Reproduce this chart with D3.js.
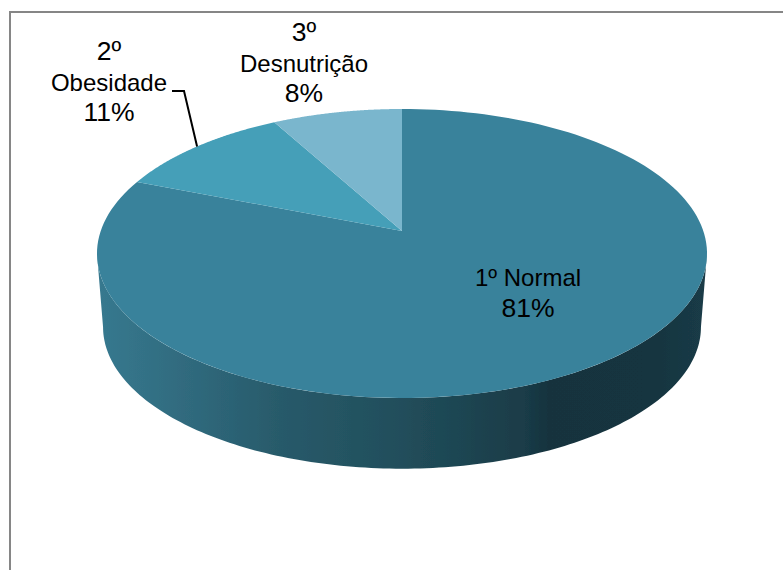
<!DOCTYPE html>
<html>
<head>
<meta charset="utf-8">
<script src="https://cdn.jsdelivr.net/npm/d3@7/dist/d3.min.js"></script>
<style>
html,body{margin:0;padding:0;background:#fff;overflow:hidden}
svg{display:block}
text{font-family:"Liberation Sans",Arial,sans-serif;font-size:24px;fill:#000;text-anchor:middle}
</style>
</head>
<body>
<svg id="c" width="783" height="570"></svg>
<script>
const categories = ["Normal", "Obesidade", "Desnutrição"];
const ranks = ["1º", "2º", "3º"];
const values = [81, 11, 8];
const sliceColors = ["#39829b", "#459fb8", "#7ab6cd"];

const svg = d3.select("#c");
const W = 783, H = 570;

// frame (runs off the right and bottom of the picture)
svg.append("rect").attr("x", 10).attr("y", 12).attr("width", W + 20).attr("height", H + 20)
  .attr("fill", "#fff").attr("stroke", "#868686").attr("stroke-width", 2);

// perspective projection of the pie plane
const k = 0.1557;
function projector(cx, cy, A, B) {
  return t => {
    const u = Math.sin(t), v = Math.cos(t), w = 1 + k * v;
    return [cx + A * u / w, cy - B * v / w];
  };
}
const top3d = projector(402, 231, 301.3, 141);
const bot3d = projector(402, 305, 295.3, 138.2);

const pie = d3.pie().sort(null).value(d => d);
const arcs = pie(values);
const line = d3.line();
const sample = (a, b, n = 160) => d3.range(n + 1).map(i => a + (b - a) * i / n);

// side wall
const defs = svg.append("defs");
const grad = defs.append("linearGradient").attr("id", "wall")
  .attr("gradientUnits", "userSpaceOnUse").attr("x1", 97).attr("x2", 707).attr("y1", 0).attr("y2", 0);
[[0, "#37798f"], [0.12, "#316d81"], [0.3, "#285a6a"], [0.5, "#214e5b"], [0.7, "#1a3c48"],
 [0.74, "#16333e"], [0.9, "#17343f"], [1, "#1a3b47"]]
  .forEach(s => grad.append("stop").attr("offset", s[0]).attr("stop-color", s[1]));
defs.append("filter").attr("id", "soft").append("feGaussianBlur").attr("stdDeviation", 0.5);

const ts = Math.acos(-k);
const wallPts = sample(ts, 2 * Math.PI - ts).map(top3d)
  .concat(sample(2 * Math.PI - ts, ts).map(bot3d));
svg.append("path").attr("d", line(wallPts) + "Z").attr("fill", "url(#wall)").attr("filter", "url(#soft)");

// top face
const apex = [402, 231];
svg.selectAll("path.slice").data(arcs).join("path").attr("class", "slice")
  .attr("d", d => line([apex].concat(sample(d.startAngle, d.endAngle).map(top3d))) + "Z")
  .attr("fill", (d, i) => sliceColors[i]);

// leader line for Obesidade, ending at the middle of its rim
const mid = (arcs[1].startAngle + arcs[1].endAngle) / 2;
const end = top3d(mid);
svg.append("path").attr("d", line([[172, 91], [184, 91], end]))
  .attr("fill", "none").attr("stroke", "#000").attr("stroke-width", 2);

// labels
const total = d3.sum(values);
const pct = v => Math.round(v / total * 100) + "%";
const labelLines = [
  [ranks[0] + " " + categories[0], pct(values[0])],
  [ranks[1], categories[1], pct(values[1])],
  [ranks[2], categories[2], pct(values[2])]
];
const anchors = [[528, 286], [109, 60], [304, 41]];
const big = s => !/[a-z]{2}/i.test(s);
labelLines.forEach((lines, i) => {
  const t = svg.append("text").attr("x", anchors[i][0]).attr("y", anchors[i][1]);
  lines.forEach((s, j) => t.append("tspan").attr("x", anchors[i][0]).attr("dy", j ? 30.5 : 0)
    .style("font-size", big(s) ? "26.5px" : "24px").text(s));
});
</script>
</body>
</html>
